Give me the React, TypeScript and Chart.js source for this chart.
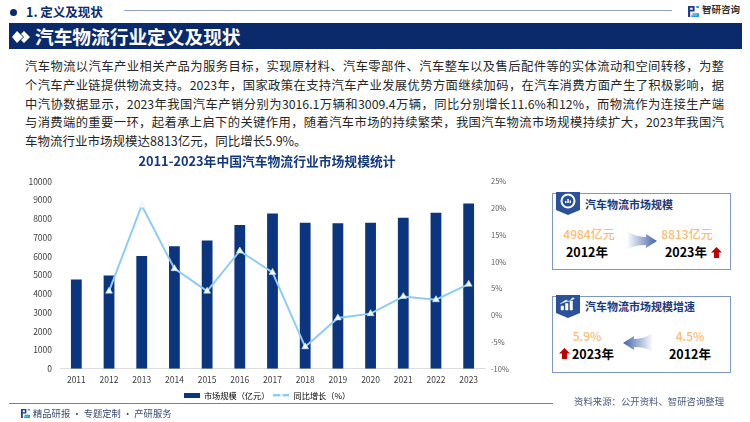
import React, { useEffect, useRef } from "react";
import { Chart, registerables } from "chart.js";

Chart.register(...registerables);

const FONT = '"Noto Sans CJK SC", "Noto Sans", sans-serif';
const years = ["2011","2012","2013","2014","2015","2016","2017","2018","2019","2020","2021","2022","2023"];
const marketSize = [4770, 4984, 6020, 6540, 6840, 7670, 8290, 7790, 7760, 7790, 8060, 8320, 8813];
const growth = [null, 4.5, 20.5, 8.7, 4.5, 12, 8, -5.9, -0.5, 0.3, 3.5, 2.9, 5.8];
const chartTitle = "2011-2023年中国汽车物流行业市场规模统计";
const barLabel = "市场规模（亿元）";
const lineLabel = "同比增长（%）";
const bodyLines = [
  "汽车物流以汽车产业相关产品为服务目标，实现原材料、汽车零部件、汽车整车以及售后配件等的实体流动和空间转移，为整",
  "个汽车产业链提供物流支持。2023年，国家政策在支持汽车产业发展优势方面继续加码，在汽车消费方面产生了积极影响，据",
  "中汽协数据显示，2023年我国汽车产销分别为3016.1万辆和3009.4万辆，同比分别增长11.6%和12%，而物流作为连接生产端",
  "与消费端的重要一环，起着承上启下的关键作用，随着汽车市场的持续繁荣，我国汽车物流市场规模持续扩大，2023年我国汽",
];
const bodyLast = "车物流行业市场规模达8813亿元，同比增长5.9%。";

const NAVY = "#0B2A6B";
const BAR = "#0C357F";
const LINE = "#8DCDF5";
const ORANGE = "#F9BC72";

function marker(w: number, h: number, draw: (c: CanvasRenderingContext2D) => void) {
  const cv = document.createElement("canvas");
  cv.width = w;
  cv.height = h;
  draw(cv.getContext("2d")!);
  return cv;
}

function T({ x, y, s, c = "#000", b = false, w, children, center = false }: any) {
  return (
    <span
      style={{
        position: "absolute",
        left: x,
        top: y,
        width: w,
        transform: center ? "translate(-50%,-50%)" : "translateY(-50%)",
        fontSize: s,
        color: c,
        fontWeight: b === true ? 700 : b === false ? 400 : b,
        whiteSpace: "nowrap",
        lineHeight: 1,
      }}
    >
      {children}
    </span>
  );
}

function Logo({ x, y, s = 10 }: any) {
  return (
    <svg style={{ position: "absolute", left: x, top: y }} width={s} height={s} viewBox="0 0 10 10">
      <path d="M0 0H6V5H2V10H0ZM2 1.5V3.5H4.2V1.5Z" fill="#1B3F8B" fillRule="evenodd" />
      <path d="M7.5 0H10V1.8H7.5ZM4 6.5H10V10H3V8.4H8.2V8H4Z" fill="#2B9BDD" />
    </svg>
  );
}

function Arrow({ x, y, left, id }: any) {
  return (
    <svg style={{ position: "absolute", left: x, top: y }} width={30} height={22} viewBox="0 0 30 22">
      <defs>
        <linearGradient id={id} x1={left ? "1" : "0"} x2={left ? "0" : "1"} y1="0" y2="0">
          <stop offset="0" stopColor="#fff" />
          <stop offset="1" stopColor="#3F63A8" />
        </linearGradient>
      </defs>
      <path
        d={left ? "M0 11L11 4V7C18 7 24 5 30 0V20C24 16 18 15 11 15V18Z" : "M30 11L19 4V7C12 7 6 5 0 0V20C6 16 12 15 19 15V18Z"}
        fill={`url(#${id})`}
      />
    </svg>
  );
}

function UpArrow({ x, y }: any) {
  return (
    <svg style={{ position: "absolute", left: x, top: y }} width={11} height={11} viewBox="0 0 11 11">
      <path d="M5.5 0L11 5.5H8V11H3V5.5H0Z" fill="#C00000" />
    </svg>
  );
}

function Badge({ x, y, kind }: any) {
  return (
    <svg style={{ position: "absolute", left: x, top: y }} width={24} height={23} viewBox="0 0 24 23">
      <path d="M0 0H24V18L12 23L0 18Z" fill="#2A5199" />
      {kind === 0 ? (
        <g>
          <circle cx="12" cy="9" r="6.5" fill="none" stroke="#fff" strokeWidth="2" />
          <path d="M9 11V9H10.5V11ZM11.3 11V7H12.8V11ZM13.6 11V8.5H15V11Z" fill="#fff" />
        </g>
      ) : (
        <path d="M5 15V11H7.5V15ZM9.5 15V8.5H12V15ZM14 15V6H16.5V15ZM4 9L10 5L13 6.5L17 2.5L18.5 4" fill="#fff" stroke="#fff" strokeWidth="0.5" />
      )}
    </svg>
  );
}

function Panel({ y }: any) {
  return (
    <div
      style={{
        position: "absolute",
        left: 552,
        top: y,
        width: 177,
        height: 75,
        border: "1px solid #7F97C8",
      }}
    />
  );
}

export default function App() {
  const ref = useRef<HTMLCanvasElement>(null);
  useEffect(() => {
    const barMark = marker(16, 5, (c) => {
      c.fillStyle = BAR;
      c.fillRect(0, 0, 16, 5);
    });
    const lineMark = marker(16, 3, (c) => {
      c.fillStyle = LINE;
      c.fillRect(0, 0, 7, 2);
      c.fillRect(9, 0, 7, 2);
    });
    const chart = new Chart(ref.current!, {
      type: "bar",
      data: {
        labels: years,
        datasets: [
          {
            type: "line",
            label: lineLabel,
            data: growth,
            yAxisID: "y1",
            borderColor: LINE,
            borderWidth: 2,
            pointStyle: "triangle",
            pointRadius: 4,
            pointBackgroundColor: "#F4FAFF",
            pointBorderColor: "#CFEAFB",
            pointBorderWidth: 0.5,
            tension: 0,
            order: 1,
          } as any,
          {
            type: "bar",
            label: barLabel,
            data: marketSize,
            yAxisID: "y",
            backgroundColor: BAR,
            categoryPercentage: 1,
            barPercentage: 0.33,
            order: 2,
          } as any,
        ],
      },
      options: {
        animation: false,
        responsive: false,
        layout: { padding: 0 },
        plugins: {
          tooltip: { enabled: false },
          title: {
            display: true,
            text: chartTitle,
            color: "#14397F",
            font: { family: FONT, size: 12.8, weight: "bold" },
            padding: { top: 3, bottom: 13 },
          },
          legend: {
            position: "bottom",
            labels: {
              usePointStyle: true,
              pointStyleWidth: 16,
              boxHeight: 8,
              padding: 4,
              color: "#404040",
              font: { family: FONT, size: 8.2 },
              generateLabels: () => [
                { text: barLabel, pointStyle: barMark, fillStyle: BAR, strokeStyle: BAR, lineWidth: 0, datasetIndex: 1 },
                { text: lineLabel, pointStyle: lineMark, fillStyle: LINE, strokeStyle: LINE, lineWidth: 0, datasetIndex: 0 },
              ] as any,
            },
          },
        },
        scales: {
          x: {
            grid: { display: false, drawTicks: false },
            border: { color: "#DDDDDD" },
            ticks: { color: "#404040", font: { family: FONT, size: 8.5 }, padding: 6, maxRotation: 0 },
            afterFit: (s: any) => {
              s.height = 19;
            },
          },
          y: {
            position: "left",
            min: 0,
            max: 10000,
            grid: { display: false, drawTicks: false },
            border: { display: false },
            ticks: {
              stepSize: 1000,
              color: "#404040",
              font: { family: FONT, size: 8.5 },
              padding: 8,
              callback: (v: any) => `${v}`,
            },
            afterFit: (s: any) => {
              s.width = 60;
            },
          },
          y1: {
            position: "right",
            min: -10,
            max: 25,
            grid: { display: false, drawTicks: false },
            border: { display: false },
            ticks: {
              stepSize: 5,
              color: "#595959",
              font: { family: FONT, size: 7.5 },
              padding: 6,
              callback: (v: any) => `${v}%`,
            },
            afterFit: (s: any) => {
              s.width = 49;
            },
          },
        },
      },
    } as any);
    return () => chart.destroy();
  }, []);

  return (
    <div style={{ position: "fixed", left: 0, top: 0, width: 750, height: 422, overflow: "hidden", background: "#fff", fontFamily: FONT }}>
      {/* header */}
      <div style={{ position: "absolute", left: 10, top: 9, width: 7, height: 7, borderRadius: 4, background: NAVY }} />
      <T x={26} y={12} s={12.5} b c={NAVY}>1. 定义及现状</T>
      <div style={{ position: "absolute", left: 124, top: 10, width: 548, height: 1, background: "#8FA3CF" }} />
      <Logo x={688} y={6} s={11} />
      <T x={702} y={10} s={9.5} b c="#333" >智研咨询</T>
      <div style={{ position: "absolute", left: 9, top: 23, width: 733, height: 26, background: NAVY }} />
      <svg style={{ position: "absolute", left: 12, top: 31 }} width={18} height={12} viewBox="0 0 18 12">
        <path d="M5 0L11 6L5 12L0 6Z" fill="#fff" />
        <path d="M12 0L18 6L12 12L9 9L12 6L9 3Z" fill="#fff" />
      </svg>
      <T x={35} y={36} s={18.7} b c="#fff">汽车物流行业定义及现状</T>

      {/* body */}
      {bodyLines.map((l, i) => (
        <div
          key={i}
          style={{
            position: "absolute",
            left: 25,
            top: 57 + i * 18.75,
            width: 699,
            height: 18,
            lineHeight: "18px",
            fontSize: 12.3,
            color: "#262626",
            textAlign: "justify",
            textAlignLast: "justify",
            whiteSpace: "nowrap",
          }}
        >
          {l}
        </div>
      ))}
      <div style={{ position: "absolute", left: 25, top: 132, height: 18, lineHeight: "18px", fontSize: 12.5, color: "#262626", whiteSpace: "nowrap" }}>
        {bodyLast}
      </div>

      {/* chart */}
      <canvas ref={ref} width={534} height={260} style={{ position: "absolute", left: 0, top: 150, width: 534, height: 260 }} />

      {/* panel 1 */}
      <Panel y={193} />
      <Badge x={556} y={192} kind={0} />
      <T x={585} y={204} s={11} b c="#1A3A7C">汽车物流市场规模</T>
      <T x={589} y={234} s={12} b={500} c={ORANGE} center>4984亿元</T>
      <T x={587} y={252} s={12.5} b center>2012年</T>
      <Arrow x={627} y={230} id="ga" />
      <T x={687} y={234} s={12} b={500} c={ORANGE} center>8813亿元</T>
      <T x={686} y={252} s={12.5} b center>2023年</T>
      <UpArrow x={711} y={247} />

      {/* panel 2 */}
      <Panel y={296} />
      <Badge x={556} y={295} kind={1} />
      <T x={585} y={306} s={11} b c="#1A3A7C">汽车物流市场规模增速</T>
      <T x={587} y={336} s={12} b={500} c={ORANGE} center>5.9%</T>
      <T x={593} y={354} s={12.5} b center>2023年</T>
      <UpArrow x={559} y={348} />
      <Arrow x={623} y={332} left id="gb" />
      <T x={690} y={336} s={12} b={500} c={ORANGE} center>4.5%</T>
      <T x={690} y={354} s={12.5} b center>2012年</T>

      {/* footer */}
      <div style={{ position: "absolute", left: 9, top: 403, width: 544, height: 1, background: "#6F7FB5" }} />
      <Logo x={21} y={409} s={9} />
      <T x={33} y={414} s={9.3} c="#3A4A70">精品研报 · 专题定制 · 产研服务</T>
      <T x={574} y={402} s={9.4} c="#4A5A80">资料来源：公开资料、智研咨询整理</T>
    </div>
  );
}
